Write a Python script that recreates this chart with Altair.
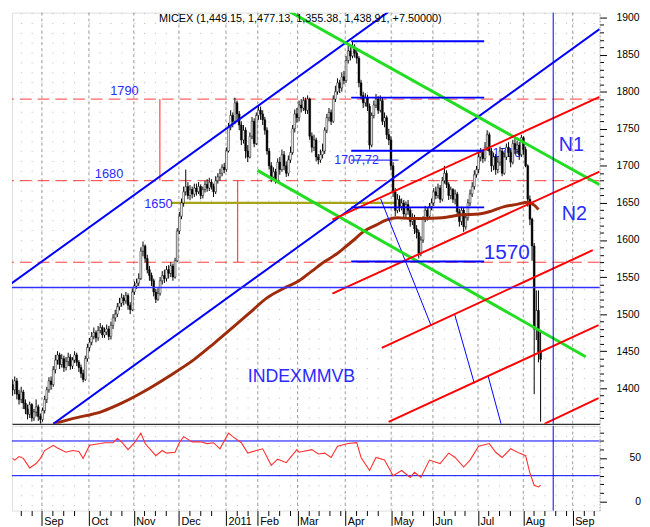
import json
import altair as alt
import pandas as pd

# ---------------- data ----------------
CLOSE = [1420, 1412, 1425, 1405, 1398, 1410, 1392, 1385, 1395, 1380,
         1372, 1365, 1378, 1360, 1368, 1375, 1362, 1358, 1370, 1385,
         1398, 1410, 1405, 1425, 1438, 1445, 1432, 1440, 1428, 1436,
         1442, 1430, 1438, 1445, 1435, 1428, 1420, 1412, 1440, 1455,
         1462, 1470, 1475, 1468, 1478, 1482, 1472, 1476, 1480, 1470,
         1485, 1495, 1500, 1510, 1515, 1522, 1518, 1525, 1512, 1506,
         1530, 1538, 1542, 1548, 1585, 1592, 1575, 1560, 1552, 1545,
         1530, 1520, 1528, 1545, 1552, 1548, 1560, 1555, 1565, 1550,
         1572, 1612, 1632, 1650, 1665, 1672, 1660, 1668, 1662, 1670,
         1665, 1672, 1660, 1668, 1675, 1670, 1678, 1672, 1665, 1680,
         1685, 1690, 1698, 1695, 1720, 1752, 1768, 1760, 1785, 1770,
         1755, 1735, 1748, 1720, 1712, 1740, 1760, 1730, 1768, 1775,
         1770, 1762, 1748, 1720, 1700, 1685, 1692, 1680, 1705, 1695,
         1715, 1700, 1690, 1708, 1718, 1750, 1770, 1765, 1782, 1778,
         1788, 1775, 1790, 1740, 1725, 1735, 1712, 1708, 1715, 1720,
         1748, 1765, 1772, 1760, 1790, 1800, 1812, 1805, 1820, 1815,
         1842, 1855, 1848, 1860, 1852, 1845, 1812, 1795, 1785, 1792,
         1780, 1728, 1768, 1782, 1790, 1775, 1788, 1760, 1765, 1742,
         1735, 1700, 1665, 1640, 1655, 1645, 1650, 1635, 1648, 1640,
         1625, 1630, 1615, 1610, 1582, 1600, 1628, 1640, 1632, 1645,
         1650, 1665, 1660, 1670, 1655, 1680, 1690, 1675, 1660, 1668,
         1655, 1662, 1638, 1625, 1640, 1618, 1630, 1650, 1662, 1672,
         1688, 1695, 1712, 1718, 1710, 1725, 1742, 1720, 1700, 1712,
         1695, 1705, 1720, 1690, 1712, 1725, 1718, 1705, 1730, 1722,
         1728, 1715, 1738, 1722, 1700, 1655, 1628, 1592, 1480, 1505, 1449, 1439]
HIGH = [1428, 1426, 1430, 1428, 1412, 1416, 1414, 1398, 1402, 1398,
        1385, 1378, 1382, 1380, 1372, 1385, 1378, 1366, 1374, 1390,
        1402, 1415, 1416, 1430, 1445, 1450, 1448, 1446, 1444, 1442,
        1448, 1446, 1442, 1450, 1448, 1438, 1432, 1425, 1444, 1460,
        1468, 1476, 1482, 1478, 1484, 1488, 1485, 1482, 1486, 1484,
        1490, 1500, 1506, 1515, 1522, 1528, 1526, 1530, 1528, 1516,
        1535, 1544, 1548, 1555, 1590, 1598, 1594, 1580, 1565, 1556,
        1548, 1534, 1535, 1550, 1558, 1560, 1565, 1566, 1570, 1568,
        1576, 1616, 1638, 1656, 1672, 1695, 1678, 1674, 1672, 1676,
        1676, 1678, 1675, 1672, 1680, 1682, 1684, 1682, 1676, 1686,
        1690, 1696, 1702, 1704, 1725, 1758, 1775, 1772, 1792, 1788,
        1774, 1760, 1755, 1752, 1728, 1745, 1766, 1764, 1772, 1782,
        1780, 1775, 1766, 1752, 1724, 1705, 1698, 1696, 1710, 1712,
        1722, 1720, 1706, 1714, 1726, 1755, 1776, 1778, 1788, 1790,
        1793, 1792, 1795, 1792, 1745, 1742, 1738, 1716, 1722, 1730,
        1752, 1770, 1778, 1776, 1795, 1808, 1818, 1816, 1826, 1828,
        1848, 1862, 1860, 1867, 1864, 1858, 1848, 1816, 1800, 1798,
        1796, 1784, 1772, 1788, 1797, 1794, 1795, 1792, 1772, 1768,
        1750, 1740, 1705, 1670, 1662, 1660, 1656, 1654, 1652, 1654,
        1644, 1636, 1634, 1620, 1614, 1605, 1632, 1646, 1644, 1650,
        1656, 1670, 1672, 1676, 1674, 1685, 1700, 1694, 1678, 1672,
        1670, 1668, 1665, 1642, 1645, 1644, 1636, 1655, 1668, 1678,
        1694, 1700, 1718, 1724, 1722, 1732, 1748, 1745, 1724, 1718,
        1716, 1712, 1726, 1724, 1718, 1730, 1732, 1722, 1735, 1738,
        1734, 1732, 1742, 1740, 1726, 1702, 1660, 1630, 1596, 1532, 1532, 1477]
LOW = [1408, 1405, 1408, 1398, 1390, 1392, 1385, 1378, 1380, 1372,
       1365, 1358, 1360, 1355, 1356, 1362, 1356, 1352, 1355, 1366,
       1380, 1394, 1398, 1402, 1420, 1432, 1426, 1428, 1422, 1424,
       1430, 1425, 1426, 1434, 1430, 1422, 1414, 1408, 1410, 1436,
       1450, 1458, 1466, 1462, 1464, 1474, 1468, 1468, 1472, 1465,
       1466, 1480, 1490, 1496, 1505, 1510, 1512, 1514, 1506, 1500,
       1504, 1526, 1534, 1538, 1546, 1578, 1570, 1555, 1545, 1538,
       1524, 1515, 1518, 1525, 1540, 1542, 1544, 1548, 1550, 1545,
       1548, 1570, 1608, 1628, 1645, 1660, 1655, 1654, 1656, 1658,
       1660, 1662, 1655, 1656, 1664, 1665, 1666, 1668, 1658, 1662,
       1676, 1680, 1686, 1690, 1692, 1718, 1748, 1752, 1756, 1762,
       1748, 1728, 1730, 1710, 1705, 1710, 1736, 1725, 1728, 1762,
       1762, 1755, 1742, 1715, 1695, 1678, 1680, 1676, 1678, 1688,
       1692, 1694, 1685, 1686, 1704, 1715, 1745, 1758, 1760, 1772,
       1774, 1770, 1770, 1735, 1718, 1720, 1706, 1702, 1704, 1710,
       1716, 1744, 1760, 1755, 1758, 1786, 1796, 1798, 1800, 1810,
       1812, 1838, 1842, 1845, 1846, 1838, 1806, 1790, 1778, 1780,
       1774, 1722, 1725, 1764, 1778, 1770, 1772, 1755, 1752, 1736,
       1728, 1694, 1658, 1632, 1636, 1638, 1640, 1628, 1630, 1634,
       1618, 1620, 1608, 1602, 1575, 1578, 1596, 1624, 1626, 1628,
       1640, 1646, 1655, 1656, 1650, 1652, 1676, 1670, 1654, 1655,
       1650, 1648, 1632, 1618, 1620, 1611, 1614, 1626, 1646, 1658,
       1668, 1684, 1690, 1706, 1704, 1706, 1720, 1714, 1692, 1694,
       1688, 1690, 1700, 1686, 1688, 1708, 1712, 1698, 1702, 1716,
       1716, 1708, 1712, 1715, 1698, 1645, 1620, 1572, 1392, 1465, 1435, 1355]

MA_X = [23, 32, 46, 55, 65, 77, 89, 98, 107, 115, 123, 131, 138, 144, 150, 155, 159,
        164, 168, 174, 179, 184, 190, 196, 205, 214, 222, 228, 234, 240, 245, 248, 250]
MA_V = [1352, 1359, 1369, 1380, 1395, 1416, 1439, 1460, 1482, 1502, 1522, 1535, 1545,
        1558, 1571, 1580, 1589, 1601, 1611, 1620, 1627, 1630, 1629, 1629, 1630, 1634,
        1635, 1639, 1645, 1648, 1651, 1647, 1641]

RSI_X = [4, 5, 7, 9, 12, 15, 17, 19, 23, 25, 29, 32, 35, 37, 40, 45, 47, 51, 53,
         55, 58, 61, 64, 66, 71, 74, 76, 80, 82, 84, 88, 92, 95, 98, 101, 105, 107, 111, 114,
         118, 121, 125, 128, 132, 137, 138, 144, 147, 150, 153, 156, 161, 165, 167, 171, 174, 178, 182, 186,
         190, 192, 195, 199, 204, 208, 211, 215, 218, 222, 227, 230, 233, 237, 241, 244, 246, 248, 250, 251]
RSI_V = [50, 48, 52, 50, 39, 44, 50, 59, 65, 62, 57, 59, 58, 50, 65, 67, 68, 68, 73,
         69, 60, 68, 79, 67, 53, 59, 56, 57, 68, 75, 69, 69, 67, 68, 61, 79, 75, 68, 56,
         59, 61, 42, 49, 45, 60, 57, 60, 55, 56, 51, 64, 67, 68, 51, 36, 51, 48, 30, 36,
         28, 34, 28, 48, 44, 56, 51, 40, 48, 64, 67, 57, 51, 61, 56, 53, 33, 19, 17, 19]

MONTH_POS = [17.7, 39.7, 60.7, 81.8, 103.8, 118.7, 137.3, 159.6, 181.1, 200.6, 221.7, 242.9, 266.0]
MONTH_LBL = ["Sep", "Oct", "Nov", "Dec", "2011", "Feb", "Mar", "Apr", "May", "Jun", "Jul", "Aug", "Sep"]

DASHED_LEVELS = [1790, 1680, 1570]
THIN_BLUE_LEVEL = [1536]
VERTICAL_MARK = [256.9]
RED_VERTS = [[72.9, 1790, 1680], [109.3, 1680, 1570]]          # x, from, to
OLIVE_SEG = [[78.4, 184.5, 1650]]                                 # x1, x2, level
BLUE_CHANNEL = [[0, 1534.3, 184.5, 1917.3], [23.06, 1352.1, 278.6, 1884.6]]
BLUE_THIN = [[176.2, 1655.3, 199.7, 1485.1], [210.8, 1499.7, 220, 1406.6],
             [226.5, 1416, 232.5, 1352.1]]
GREEN_LINES = [[127.8, 1917.3, 278.6, 1674.5], [118.5, 1693.9, 272.1, 1442.6]]
RED_CHANNEL = [[153.6, 1627.4, 278.6, 1793.1], [153.6, 1527.7, 278.6, 1692.1],
               [176.7, 1454.5, 275.4, 1586.2], [179.9, 1354.8, 278.1, 1485.1],
               [252.8, 1352.1, 278.1, 1386.7]]
BLUE_SEG_LEVELS = [1868, 1792, 1720.5, 1644, 1571]
BLUE_SEG_SPAN = [162.4, 224.6]
THIN_SEG = [[162.4, 184.5, 1707.72]]
RSI_LEVELS = [70, 30]
RSI_TICK_LABELS = [50, 0]

ANNOT_TEXT = ["1790", "1680", "1650", "1707,72", "1570", "N1", "N2", "INDEXMMVB"]
ANNOT_X = [56.3, 49.1, 72.2, 164.9, 235.2, 265.4, 266.8, 139.1]
ANNOT_Y = [1800.3, 1688.6, 1648.7, 1707.2, 1582.2, 1728.5, 1635.4, 1414.6]
ANNOT_SIZE = [13, 13, 13, 12.5, 21, 20, 20, 18]
BEHIND_TEXT = ["1716"]
BEHIND_X = [235.2]
BEHIND_Y = [1717.8]
TITLE = "MICEX (1,449.15, 1,477.13, 1,355.38, 1,438.91, +7.50000)"
TITLE_POS = [138.6, 1906.0]

# ---------------- layout / style ----------------
FIRST_BAR = 4
X_DOMAIN = [3.69, 278.6]
PRICE_DOMAIN = [1352.1, 1906.6]
RSI_DOMAIN = [-10.2, 87.5]
W, H_PRICE, H_RSI = 596, 417, 86
FONT = "Liberation Sans"
BLUE = "#0000ff"
TBLUE = "#2a2aff"
GRID = "#b8b8b8"

# x ticks: month starts plus weekly minor ticks
ticks = [MONTH_POS[0] - 10, MONTH_POS[0] - 5]
bounds = MONTH_POS + [X_DOMAIN[1] + 1]
for a, b in zip(bounds[:-1], bounds[1:]):
    t = a
    while t < b - 2:
        ticks.append(round(t, 2))
        t += 5
keys = json.dumps([round(m * 10) for m in MONTH_POS])
labs = json.dumps(MONTH_LBL)
idx_expr = f"indexof({keys}, round(datum.value*10))"

x_scale = alt.Scale(domain=X_DOMAIN, nice=False, zero=False, padding=0)
p_scale = alt.Scale(domain=PRICE_DOMAIN, nice=False, zero=False, padding=0)
r_scale = alt.Scale(domain=RSI_DOMAIN, nice=False, zero=False, padding=0)

x_axis_price = alt.Axis(values=ticks, labels=False, ticks=False, domain=True,
                        domainColor="black", grid=True, gridDash=[1, 9],
                        gridColor=GRID, title=None)
x_axis_rsi = alt.Axis(values=ticks, labelExpr=f"{idx_expr} >= 0 ? {labs}[{idx_expr}] : ''",
                      labelAlign="left", labelOffset=2, labelPadding=-10, labelFontSize=11,
                      labelFont=FONT, labelColor="black", labelFlush=False,
                      labelOverlap=False, labelBound=False, domain=False,
                      tickColor="black",
                      tickSize={"condition": {"test": f"{idx_expr} >= 0", "value": 15}, "value": 5},
                      grid=True, gridDash=[1, 9], gridColor=GRID, title=None)
y_axis_price = alt.Axis(orient="right", values=list(range(1360, 1910, 10)), format="d",
                        labelExpr="datum.value % 50 == 0 ? datum.label : ''",
                        tickColor="black",
                        tickSize={"condition": {"test": "datum.value % 50 == 0", "value": 7}, "value": 4},
                        labelAlign="right", labelPadding=33, labelFontSize=10.5, labelFont=FONT,
                        labelColor="black", labelOverlap=False, labelBound=False, labelFlush=False,
                        domainColor="#999999", domainDash=[1, 2], grid=False, title=None)
y_axis_rsi = alt.Axis(orient="right", values=list(range(0, 90, 10)), labels=False,
                      tickColor="black",
                      tickSize={"condition": {"test": "datum.value % 50 == 0", "value": 7}, "value": 4},
                      domainColor="#999999", domainDash=[1, 2], grid=False, title=None)


def PX(f, axis):
    return alt.X(f"{f}:Q", scale=x_scale, axis=axis)


def PY(f):
    return alt.Y(f"{f}:Q", scale=p_scale, axis=y_axis_price)


def RY(f):
    return alt.Y(f"{f}:Q", scale=r_scale, axis=y_axis_rsi)


XA = x_axis_price

candles = pd.DataFrame({"i": list(range(len(CLOSE))),
                        "open": [CLOSE[0]] + CLOSE[:-1],
                        "high": HIGH, "low": LOW, "close": CLOSE})
candles = candles[candles["i"] >= FIRST_BAR]
months = pd.DataFrame({"x": MONTH_POS})
seg = lambda rows: pd.DataFrame(rows, columns=["x", "y", "x2", "y2"])


def level_lines(levels):
    rows = []
    for lv in levels:
        rows.append({"lv": lv, "x": X_DOMAIN[0], "y": lv})
        rows.append({"lv": lv, "x": X_DOMAIN[1], "y": lv})
    return pd.DataFrame(rows)


month_rules = alt.Chart(months).mark_rule(color="#9a9a9a", strokeDash=[3, 3], strokeWidth=1).encode(
    x=PX("x", XA))
dashed = alt.Chart(pd.DataFrame({"y": DASHED_LEVELS})).mark_rule(
    color="#ff3b3b", strokeDash=[12, 6], strokeWidth=1).encode(y=PY("y"))
thin_blue = alt.Chart(level_lines(THIN_BLUE_LEVEL)).mark_line(
    color="#3030ff", strokeWidth=1.4).encode(x=PX("x", XA), y=PY("y"), detail="lv:N")
red_verts = alt.Chart(pd.DataFrame(RED_VERTS, columns=["x", "y", "y2"])).mark_rule(
    color="#ff2020", strokeWidth=1).encode(x=PX("x", XA), y=PY("y"), y2="y2:Q")
olive = alt.Chart(pd.DataFrame(OLIVE_SEG, columns=["x", "x2", "y"])).mark_rule(
    color="#a8a418", strokeWidth=2.2).encode(x=PX("x", XA), x2="x2:Q", y=PY("y"))
behind = alt.Chart(pd.DataFrame({"x": BEHIND_X, "y": BEHIND_Y, "t": BEHIND_TEXT})).mark_text(
    font=FONT, fontSize=13, color=TBLUE).encode(x=PX("x", XA), y=PY("y"), text="t:N")
wicks = alt.Chart(candles).mark_rule(color="black", strokeWidth=1, clip=True).encode(
    x=PX("i", XA), y=PY("low"), y2="high:Q")
bodies = alt.Chart(candles).mark_bar(size=1.8, stroke="black", strokeWidth=0.5, clip=True).encode(
    x=PX("i", XA), y=PY("open"), y2="close:Q",
    color=alt.condition("datum.close < datum.open", alt.value("black"), alt.value("white")))
ma = alt.Chart(pd.DataFrame({"x": MA_X, "y": MA_V})).mark_line(
    color="#9e2c0c", strokeWidth=3, clip=True, interpolate="monotone").encode(x=PX("x", XA), y=PY("y"))


def seg_layer(rows, color, width):
    return alt.Chart(seg(rows)).mark_rule(color=color, strokeWidth=width, clip=True).encode(
        x=PX("x", XA), x2="x2:Q", y=PY("y"), y2="y2:Q")


blue_ch = seg_layer(BLUE_CHANNEL, BLUE, 2)
blue_thin = seg_layer(BLUE_THIN, BLUE, 1)
green = seg_layer(GREEN_LINES, "#22dd22", 3)
red_ch = seg_layer(RED_CHANNEL, "#ff0000", 2)
blue_levels = alt.Chart(pd.DataFrame({"y": BLUE_SEG_LEVELS, "x": BLUE_SEG_SPAN[0],
                                      "x2": BLUE_SEG_SPAN[1]})).mark_rule(
    color=BLUE, strokeWidth=2).encode(x=PX("x", XA), x2="x2:Q", y=PY("y"))
thin_seg = alt.Chart(pd.DataFrame(THIN_SEG, columns=["x", "x2", "y"])).mark_rule(
    color=BLUE, strokeWidth=1).encode(x=PX("x", XA), x2="x2:Q", y=PY("y"))
vline = alt.Chart(pd.DataFrame({"x": VERTICAL_MARK})).mark_rule(color=BLUE, strokeWidth=1).encode(
    x=PX("x", XA))
annots = alt.Chart(pd.DataFrame({"x": ANNOT_X, "y": ANNOT_Y, "t": ANNOT_TEXT, "s": ANNOT_SIZE})).mark_text(
    font=FONT, color=TBLUE).encode(x=PX("x", XA), y=PY("y"), text="t:N",
                                   size=alt.Size("s:Q", scale=None, legend=None))
title = alt.Chart(pd.DataFrame({"x": [TITLE_POS[0]], "y": [TITLE_POS[1]], "t": [TITLE]})).mark_text(
    font=FONT, fontSize=11, color="black", baseline="top").encode(x=PX("x", XA), y=PY("y"), text="t:N")

price = alt.layer(month_rules, dashed, red_verts, olive, behind, wicks, bodies, ma,
                  blue_ch, blue_thin, green, red_ch, blue_levels, thin_seg, thin_blue, vline,
                  annots, title).properties(width=W, height=H_PRICE)

XR = x_axis_rsi
r_month = alt.Chart(months).mark_rule(color="#9a9a9a", strokeDash=[3, 3], strokeWidth=1).encode(
    x=PX("x", XR))
r_levels = alt.Chart(level_lines(RSI_LEVELS)).mark_line(color=BLUE, strokeWidth=1).encode(
    x=PX("x", XR), y=RY("y"), detail="lv:N")
r_line = alt.Chart(pd.DataFrame({"x": RSI_X, "y": RSI_V})).mark_line(
    color="#ff3030", strokeWidth=1.1, clip=True).encode(x=PX("x", XR), y=RY("y"))
r_vline = alt.Chart(pd.DataFrame({"x": VERTICAL_MARK})).mark_rule(color=BLUE, strokeWidth=1).encode(
    x=PX("x", XR))
r_labels = alt.Chart(pd.DataFrame({"v": RSI_TICK_LABELS, "x": X_DOMAIN[1]})).mark_text(
    font=FONT, fontSize=10.5, color="black", align="right", baseline="middle", dx=42).encode(
    x=PX("x", XR), y=RY("v"), text=alt.Text("v:Q", format="d"))
rsi = alt.layer(r_month, r_levels, r_line, r_vline, r_labels).properties(width=W, height=H_RSI)

chart = alt.vconcat(price, rsi, spacing=0).properties(padding=0).configure_view(
    stroke=None).configure(background="white")

chart.save("out.html", embed_options={"renderer": "svg", "actions": False})
